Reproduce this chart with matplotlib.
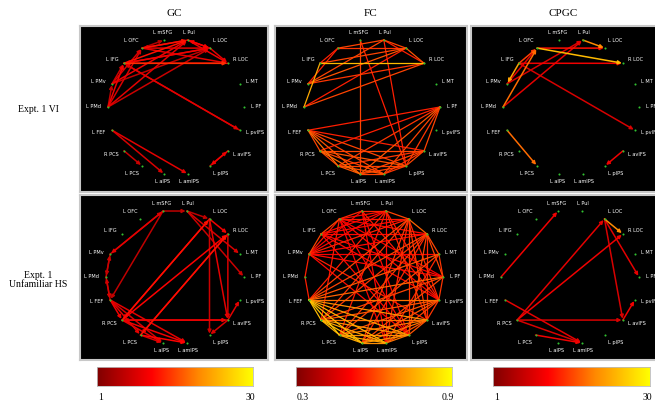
import matplotlib
matplotlib.use('Agg')
import matplotlib.pyplot as plt
import numpy as np
from matplotlib.colors import LinearSegmentedColormap, Normalize

# ノード名（上から時計回り）
names = ['L mSFG', 'L Pul', 'L LOC', 'R LOC', 'L MT', 'L PF', 'L pvIFS', 'L avIFS', 'L pIPS',
         'L amIPS', 'L aIPS', 'L PCS', 'R PCS', 'L FEF', 'L PMd', 'L PMv', 'L IFG', 'L OFC']

col_titles = ['GC', 'FC', 'CPGC']
row_titles = ['Expt. 1 VI', 'Expt. 1\nUnfamiliar HS']
cbar_ranges = [(1, 30), (0.3, 0.9), (1, 30)]
cbar_labels = [('1', '30'), ('0.3', '0.9'), ('1', '30')]

# エッジ (from, to, value)
gc_vi = [(16, 3, 14), (3, 16, 11), (16, 2, 10), (2, 16, 8), (17, 3, 9), (17, 1, 12), (1, 17, 8),
         (17, 2, 9), (15, 1, 10), (14, 1, 9), (14, 17, 8), (14, 16, 10), (15, 16, 7), (14, 2, 7),
         (15, 2, 6), (1, 2, 11), (2, 1, 9), (1, 3, 10), (2, 3, 9), (16, 1, 12), (17, 0, 5),
         (16, 6, 9), (6, 16, 7), (15, 17, 8), (7, 8, 10), (8, 7, 8), (13, 9, 9), (13, 10, 8),
         (12, 11, 7), (14, 15, 6)]
fc_vi = [(16, 3, 0.78), (17, 1, 0.6), (17, 2, 0.58), (17, 16, 0.55), (16, 14, 0.75), (15, 1, 0.6),
         (15, 2, 0.62), (15, 3, 0.58), (14, 3, 0.6), (14, 2, 0.55), (16, 2, 0.6), (1, 2, 0.6),
         (2, 3, 0.62), (1, 3, 0.55), (0, 10, 0.6), (1, 8, 0.55), (0, 8, 0.55), (15, 17, 0.55),
         (13, 7, 0.55), (13, 8, 0.6), (13, 9, 0.6), (13, 10, 0.62), (13, 11, 0.65), (13, 12, 0.6),
         (5, 7, 0.6), (5, 8, 0.58), (5, 9, 0.6), (5, 10, 0.62), (5, 11, 0.58), (5, 12, 0.55),
         (5, 13, 0.55), (12, 7, 0.6), (12, 8, 0.62), (12, 9, 0.6), (12, 10, 0.65), (11, 8, 0.6),
         (11, 9, 0.62), (11, 7, 0.58), (10, 7, 0.6), (10, 8, 0.6), (9, 7, 0.58), (12, 11, 0.6),
         (11, 10, 0.62), (10, 9, 0.6), (9, 8, 0.58), (8, 7, 0.6)]
cpgc_vi = [(17, 2, 12), (17, 3, 24), (16, 3, 10), (16, 6, 8), (1, 2, 20), (15, 1, 8), (14, 1, 9),
           (14, 17, 18), (15, 17, 9), (16, 15, 22), (7, 8, 10), (13, 11, 18), (16, 17, 15)]
gc_hs = [(0, 15, 9), (15, 0, 7), (0, 1, 6), (0, 13, 6), (1, 4, 8), (1, 5, 7), (1, 2, 6), (2, 3, 10),
         (2, 7, 9), (3, 7, 8), (2, 8, 7), (12, 2, 12), (2, 12, 10), (12, 3, 11), (11, 3, 12),
         (3, 11, 9), (12, 7, 10), (7, 12, 8), (13, 11, 9), (13, 12, 10), (13, 10, 8), (13, 9, 9),
         (12, 9, 10), (11, 9, 11), (11, 10, 8), (12, 10, 9), (7, 6, 9), (7, 8, 8), (14, 15, 7),
         (14, 13, 8), (15, 14, 6), (13, 14, 6)]
fc_hs = [(17, 16, .6), (16, 15, .6), (15, 14, .55), (14, 13, .55), (13, 12, .78), (12, 11, .76),
         (11, 10, .74), (10, 9, .7), (9, 8, .66), (8, 7, .62), (7, 6, .58), (6, 5, .58), (5, 4, .58),
         (4, 3, .6), (3, 2, .64), (2, 1, .6), (1, 0, .56), (0, 17, .56),
         (15, 1, .52), (15, 2, .55), (15, 3, .52), (15, 4, .5), (15, 5, .52), (15, 7, .55), (15, 8, .52),
         (15, 17, .54), (15, 0, .5),
         (17, 1, .52), (17, 2, .54), (17, 3, .52), (17, 5, .5), (17, 6, .52), (17, 9, .5), (17, 12, .54),
         (13, 1, .55), (13, 2, .6), (13, 3, .6), (13, 4, .62), (13, 5, .64), (13, 6, .66), (13, 7, .7),
         (13, 8, .72), (13, 9, .76), (13, 10, .78), (13, 11, .8),
         (12, 2, .58), (12, 3, .58), (12, 5, .6), (12, 6, .62), (12, 7, .66), (12, 8, .7), (12, 9, .74),
         (12, 10, .78),
         (11, 1, .54), (11, 3, .58), (11, 4, .6), (11, 6, .62), (11, 7, .66), (11, 8, .7), (11, 9, .74),
         (10, 2, .58), (10, 3, .56), (10, 5, .6), (10, 6, .62), (10, 7, .66), (10, 8, .7),
         (9, 1, .52), (9, 2, .56), (9, 4, .56), (9, 6, .6), (9, 7, .62),
         (8, 2, .58), (8, 3, .6), (8, 17, .52), (8, 16, .52),
         (2, 16, .52), (2, 6, .56), (2, 7, .58), (1, 16, .52), (1, 6, .54), (1, 7, .56),
         (3, 16, .52), (3, 7, .56), (3, 5, .6), (0, 8, .52), (0, 9, .52), (0, 6, .54),
         (16, 5, .52), (16, 6, .52)]
cpgc_hs = [(14, 0, 10), (12, 2, 9), (12, 3, 10), (12, 7, 8), (2, 3, 20), (2, 5, 9), (2, 7, 8),
           (7, 6, 10), (13, 9, 9), (12, 9, 8), (11, 9, 10)]

panels = [[gc_vi, fc_vi, cpgc_vi], [gc_hs, fc_hs, cpgc_hs]]
directed = [True, False, True]

cmap = LinearSegmentedColormap.from_list(
    'hotred', [(0, '#800000'), (0.35, '#ff0000'), (0.65, '#ff8800'), (1, '#ffff00')])

W, H = 655, 409
fig = plt.figure(figsize=(W / 100, H / 100), dpi=100)
fig.patch.set_facecolor('white')


def rect(x0, y0, x1, y1):
    return [x0 / W, 1 - y1 / H, (x1 - x0) / W, (y1 - y0) / H]


# パネルの位置（ピクセル）
cols = [(80, 268), (275, 467), (471, 671)]
rows = [(26, 192), (195, 360)]
cxs = [[176, 372, 571], [175, 374, 570]]
cys = [107, 277]
rads = [(68, 68), (69, 67)]

ang = np.deg2rad((350 + 20 * np.arange(len(names))) % 360)
nx = np.sin(ang)
ny = np.cos(ang)

for r in range(2):
    for c in range(3):
        x0, x1 = cols[c]
        y0, y1 = rows[r]
        ax = fig.add_axes(rect(x0, y0, x1, y1))
        ax.set_facecolor('black')
        rx, ry = rads[r]
        cx, cy = cxs[r][c], cys[r]
        ax.set_xlim((x0 - cx) / rx, (x1 - cx) / rx)
        ax.set_ylim((cy - y1) / ry, (cy - y0) / ry)
        ax.set_xticks([])
        ax.set_yticks([])
        for s in ax.spines.values():
            s.set_color('#c8c8c8')
            s.set_linewidth(1.5)
        norm = Normalize(*cbar_ranges[c])
        edges = sorted(panels[r][c], key=lambda e: e[2])
        for a, b, v in edges:
            col = cmap(norm(v))
            if directed[c]:
                ax.annotate('', xy=(nx[b], ny[b]), xytext=(nx[a], ny[a]),
                            arrowprops=dict(arrowstyle='-|>', color=col, fc='#d8e030', ec=col,
                                            lw=1.1, mutation_scale=5, shrinkA=0, shrinkB=1))
            else:
                ax.plot([nx[a], nx[b]], [ny[a], ny[b]], color=col, lw=0.9)
        ax.plot(nx, ny, 'o', color='#30c030', ms=1.5, mew=0, zorder=5)
        for i, nm in enumerate(names):
            s, co = nx[i], ny[i]
            ha = 'left' if s > 0.2 else ('right' if s < -0.2 else 'center')
            va = 'bottom' if co > 0.8 else ('top' if co < -0.8 else 'center')
            ax.text(1.1 * s, 1.08 * co, nm, color='white', fontsize=3.6, ha=ha, va=va,
                    family='DejaVu Sans')

# 列タイトル
for c in range(3):
    x0, x1 = cols[c]
    xc = (x0 + min(x1, 655)) / 2 if c < 2 else 563
    fig.text(xc / W, 1 - 14 / H, col_titles[c], ha='center', va='center',
             family='Liberation Serif', fontsize=8)

# 行タイトル
fig.text(38 / W, 1 - 110 / H, row_titles[0], ha='center', va='center',
         family='Liberation Serif', fontsize=7)
fig.text(38 / W, 1 - 280 / H, row_titles[1], ha='center', va='center',
         family='Liberation Serif', fontsize=7, linespacing=1.1)

# カラーバー
bars = [(97, 253), (296, 452), (493, 650)]
grad = np.linspace(0, 1, 256)[None, :]
for c in range(3):
    bx0, bx1 = bars[c]
    cax = fig.add_axes(rect(bx0, 367, bx1, 386))
    cax.imshow(grad, aspect='auto', cmap=cmap)
    cax.set_xticks([])
    cax.set_yticks([])
    for s in cax.spines.values():
        s.set_color('#bbbbbb')
        s.set_linewidth(0.6)
    lo, hi = cbar_labels[c]
    fig.text((bx0 + 1) / W, 1 - 398 / H, lo, ha='left', va='center',
             family='Liberation Serif', fontsize=7)
    fig.text((bx1 + 2) / W, 1 - 398 / H, hi, ha='right', va='center',
             family='Liberation Serif', fontsize=7)

fig.savefig('out.png', dpi=100, facecolor='white')
